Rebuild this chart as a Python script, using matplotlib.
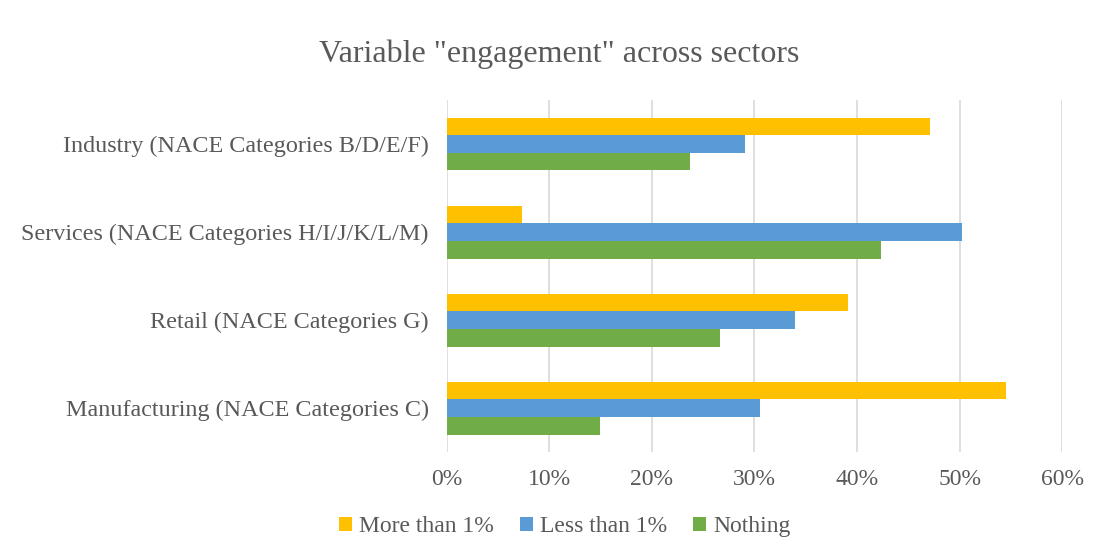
import numpy as np
import matplotlib.pyplot as plt
from matplotlib.ticker import PercentFormatter

# categories listed bottom to top
sectors = ['Manufacturing (NACE Categories C)',
           'Retail (NACE Categories G)',
           'Services (NACE Categories H/I/J/K/L/M)',
           'Industry (NACE Categories B/D/E/F)']
more_than_1 = [54.5, 39.1, 7.3, 47.1]
less_than_1 = [30.5, 34.0, 50.2, 29.1]
nothing = [14.9, 26.6, 42.3, 23.7]
series_names = ['More than 1%', 'Less than 1%', 'Nothing']
colors = ['#FFC000', '#5B9BD5', '#70AD47']

plt.rcParams['font.family'] = ['Liberation Serif', 'DejaVu Serif']
text_color = '#595959'

fig = plt.figure(figsize=(11.03, 5.59), dpi=100)
ax = fig.add_axes([0.405, 0.191, 0.558, 0.630])

y = np.arange(len(sectors))
h = 0.2
ax.barh(y + h, more_than_1, height=h, color=colors[0], label=series_names[0], zorder=3)
ax.barh(y, less_than_1, height=h, color=colors[1], label=series_names[1], zorder=3)
ax.barh(y - h, nothing, height=h, color=colors[2], label=series_names[2], zorder=3)

ax.set_xlim(0, 60)
ax.set_ylim(-0.5, 3.5)
ax.set_xticks(np.arange(0, 61, 10))
ax.xaxis.set_major_formatter(PercentFormatter(decimals=0))
ax.set_yticks(y)
ax.set_yticklabels(sectors)
ax.grid(axis='x', color='#D9D9D9', linewidth=1.2, zorder=0)
for s in ax.spines.values():
    s.set_visible(False)
ax.tick_params(axis='both', length=0, colors=text_color)
ax.tick_params(axis='x', pad=12, labelsize=17)
ax.tick_params(axis='y', pad=13, labelsize=17.4)

fig.suptitle('Variable "engagement" across sectors', x=0.507, y=0.93,
             fontsize=23, color=text_color)

leg = fig.legend(loc='center', bbox_to_anchor=(0.512, 0.058), ncol=3, frameon=False,
                 fontsize=17, handlelength=0.55, handleheight=0.55, handletextpad=0.3,
                 columnspacing=1.1)
for t in leg.get_texts():
    t.set_color(text_color)

plt.savefig('out.png', dpi=100)
